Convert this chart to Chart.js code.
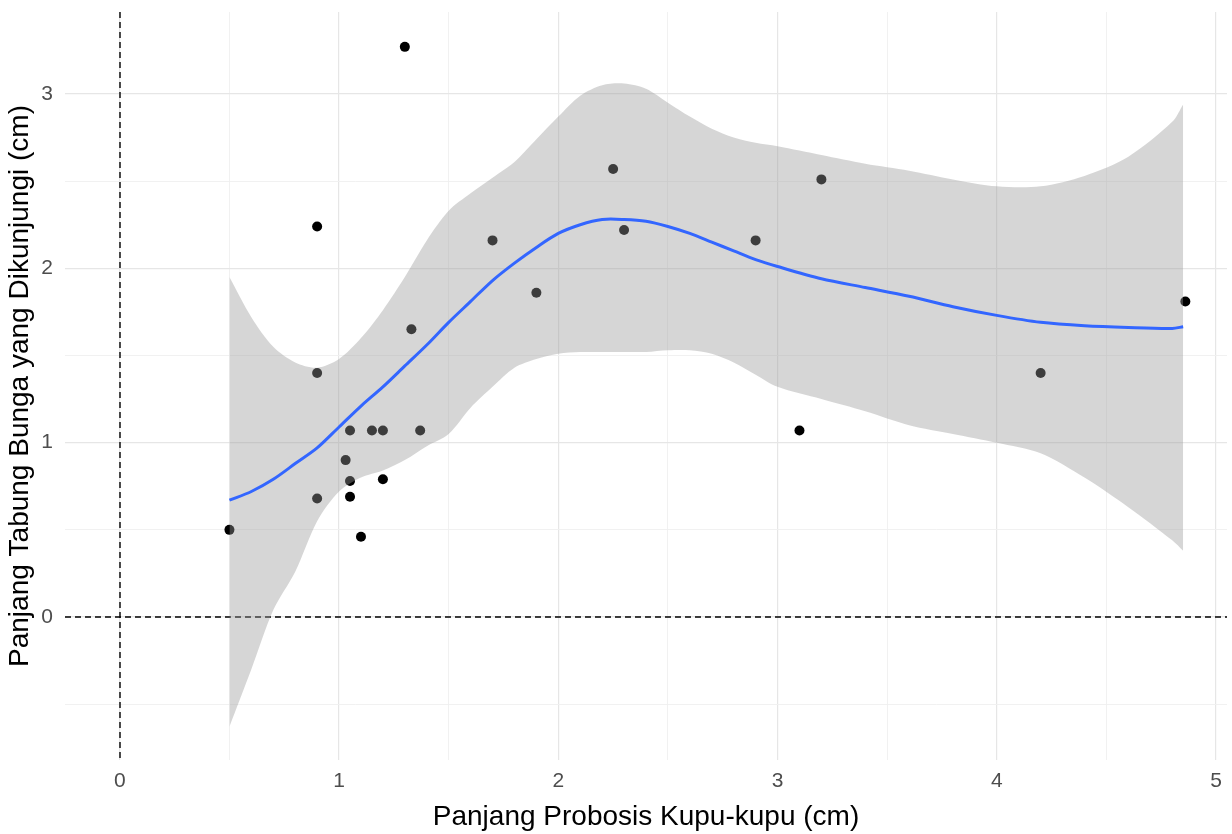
<!DOCTYPE html>
<html>
<head>
<meta charset="utf-8">
<script src="https://cdn.jsdelivr.net/npm/chart.js@4/dist/chart.umd.min.js"></script>
<style>
  html, body { margin: 0; padding: 0; background: #fff; }
  #wrap { width: 1232px; height: 834px; }
</style>
</head>
<body>
<div id="wrap"><canvas id="plot"></canvas></div>
<script>
// pengamatan: panjang probosis (x) vs panjang tabung bunga (y)
const probosis = [0.50, 0.90, 0.90, 0.90, 1.03, 1.05, 1.05, 1.05, 1.10, 1.15, 1.20, 1.20,
                  1.30, 1.33, 1.37, 1.70, 1.90, 2.25, 2.30, 2.90, 3.10, 3.20, 4.20, 4.86];
const tabung   = [0.50, 2.24, 1.40, 0.68, 0.90, 1.07, 0.78, 0.69, 0.46, 1.07, 1.07, 0.79,
                  3.27, 1.65, 1.07, 2.16, 1.86, 2.57, 2.22, 2.16, 1.07, 2.51, 1.40, 1.81];

// kurva loess + interval kepercayaan
const fitX    = [0.5, 0.6, 0.7, 0.8, 0.9, 1.0, 1.1, 1.2, 1.3, 1.4, 1.5, 1.6, 1.7, 1.8, 1.9, 2.0,
                 2.1, 2.2, 2.3, 2.4, 2.5, 2.6, 2.7, 2.8, 2.9, 3.0, 3.2, 3.4, 3.6, 3.8, 4.0, 4.2,
                 4.4, 4.6, 4.8, 4.85];
const fitY    = [0.67, 0.72, 0.79, 0.88, 0.97, 1.09, 1.21, 1.32, 1.44, 1.56, 1.69, 1.81, 1.93, 2.03, 2.12, 2.20,
                 2.25, 2.28, 2.28, 2.27, 2.24, 2.20, 2.15, 2.10, 2.05, 2.01, 1.94, 1.89, 1.84, 1.78, 1.73, 1.69,
                 1.67, 1.66, 1.655, 1.665];
const ciUpper = [1.95, 1.72, 1.55, 1.46, 1.43, 1.48, 1.60, 1.76, 1.95, 2.16, 2.33, 2.43, 2.52, 2.61, 2.74, 2.87,
                 2.99, 3.05, 3.06, 3.03, 2.95, 2.87, 2.80, 2.75, 2.72, 2.70, 2.65, 2.60, 2.56, 2.51, 2.47, 2.47,
                 2.53, 2.64, 2.84, 2.94];
const ciLower = [-0.63, -0.30, 0.04, 0.26, 0.55, 0.72, 0.80, 0.84, 0.90, 0.98, 1.05, 1.20, 1.32, 1.43, 1.48, 1.51,
                 1.52, 1.52, 1.52, 1.52, 1.53, 1.53, 1.51, 1.46, 1.39, 1.32, 1.25, 1.18, 1.10, 1.05, 1.00, 0.94,
                 0.80, 0.63, 0.44, 0.38];

const xTicks = [0, 0.5, 1, 1.5, 2, 2.5, 3, 3.5, 4, 4.5, 5];
const yTicks = [-0.5, 0, 0.5, 1, 1.5, 2, 2.5, 3];
const xRange = [-0.25, 5.05];
const yRange = [-0.82, 3.47];

const pts = (xs, ys) => xs.map((x, i) => ({ x: x, y: ys[i] }));
const intLabel = v => Number.isInteger(v) ? String(v) : '';

// garis putus-putus di x = 0 dan y = 0
const refLines = {
  id: 'refLines',
  beforeDatasetsDraw(chart) {
    const { ctx, chartArea: a, scales: { x, y } } = chart;
    ctx.save();
    ctx.strokeStyle = '#000';
    ctx.lineWidth = 1.4;
    ctx.setLineDash([6, 4]);
    const px = Math.round(x.getPixelForValue(0));
    const py = Math.round(y.getPixelForValue(0));
    ctx.beginPath();
    ctx.moveTo(px, a.top); ctx.lineTo(px, a.bottom);
    ctx.moveTo(a.left, py); ctx.lineTo(a.right, py);
    ctx.stroke();
    ctx.restore();
  }
};

const gridStyle = {
  color: ctx => Number.isInteger(ctx.tick && ctx.tick.value) ? '#E6E6E6' : '#EFEFEF',
  lineWidth: ctx => Number.isInteger(ctx.tick && ctx.tick.value) ? 1.2 : 0.9,
  drawTicks: false
};

new Chart(document.getElementById('plot'), {
  type: 'scatter',
  data: {
    datasets: [
      {
        data: pts(fitX, ciUpper),
        showLine: true, pointRadius: 0, borderWidth: 0,
        backgroundColor: 'rgba(153,153,153,0.4)',
        fill: '+1', tension: 0.3, order: 2
      },
      {
        data: pts(fitX, ciLower),
        showLine: true, pointRadius: 0, borderWidth: 0,
        fill: false, tension: 0.3, order: 2
      },
      {
        data: pts(fitX, fitY),
        showLine: true, pointRadius: 0,
        borderColor: '#3366FF', borderWidth: 3,
        fill: false, tension: 0.3, order: 1
      },
      {
        data: pts(probosis, tabung),
        pointRadius: 5, pointBorderWidth: 0,
        backgroundColor: '#000', order: 4
      }
    ]
  },
  plugins: [refLines],
  options: {
    responsive: true,
    maintainAspectRatio: false,
    animation: false,
    layout: { padding: { top: 12, right: 0, left: 0, bottom: 0 } },
    plugins: { legend: { display: false }, tooltip: { enabled: false } },
    scales: {
      x: {
        type: 'linear', min: xRange[0], max: xRange[1],
        border: { display: false },
        grid: gridStyle,
        afterBuildTicks: axis => { axis.ticks = xTicks.map(v => ({ value: v })); },
        afterFit: axis => { axis.height = 74; },
        ticks: {
          callback: intLabel, maxRotation: 0, autoSkip: false, padding: 9,
          color: '#4D4D4D', font: { family: 'Liberation Sans, Arial', size: 21 }
        },
        title: {
          display: true, text: 'Panjang Probosis Kupu-kupu (cm)', color: '#000',
          padding: { top: 0, bottom: 0 },
          font: { family: 'Liberation Sans, Arial', size: 28, lineHeight: 1.2 }
        }
      },
      y: {
        type: 'linear', min: yRange[0], max: yRange[1],
        border: { display: false },
        grid: gridStyle,
        afterBuildTicks: axis => { axis.ticks = yTicks.map(v => ({ value: v })); },
        afterFit: axis => { axis.width = 65; axis.paddingTop = 0; axis.paddingBottom = 0; },
        ticks: {
          callback: intLabel, autoSkip: false, padding: 12,
          color: '#4D4D4D', font: { family: 'Liberation Sans, Arial', size: 21 }
        },
        title: {
          display: true, text: 'Panjang Tabung Bunga yang Dikunjungi (cm)', color: '#000',
          padding: { top: 3, bottom: 0 },
          font: { family: 'Liberation Sans, Arial', size: 28, lineHeight: 1.2 }
        }
      }
    }
  }
});
</script>
</body>
</html>
